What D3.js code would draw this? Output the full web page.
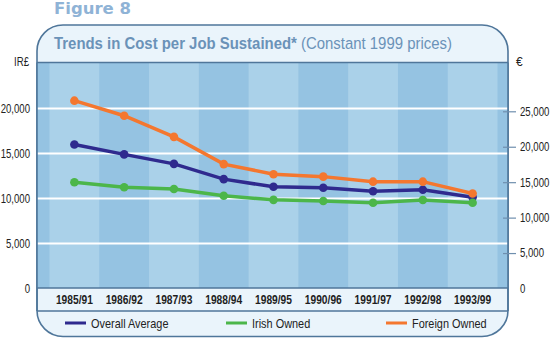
<!DOCTYPE html>
<html lang="en">
<head>
<meta charset="utf-8" />
<title>Figure 8</title>
<script src="https://cdnjs.cloudflare.com/ajax/libs/d3/7.8.5/d3.min.js"></script>
<style>
  body { margin: 0; background: #fff; }
  svg text { font-family: "Liberation Sans", Arial, sans-serif; }
</style>
</head>
<body>
<svg id="chart" width="556" height="340"></svg>
<script>
// data (IR£, constant 1999 prices)
const periods = ["1985/91", "1986/92", "1987/93", "1988/94", "1989/95", "1990/96", "1991/97", "1992/98", "1993/99"];
const overallAvg = [16000, 14900, 13850, 12150, 11300, 11200, 10800, 10980, 10150];
const irishOwned = [11800, 11250, 11050, 10300, 9850, 9720, 9530, 9830, 9530];
const foreignOwned = [20870, 19200, 16850, 13820, 12700, 12430, 11870, 11870, 10560];
const irpTicks = [0, 5000, 10000, 15000, 20000];
const euroTicks = [0, 5000, 10000, 15000, 20000, 25000];
const seriesNames = ["Overall Average", "Irish Owned", "Foreign Owned"];
const seriesColors = ["#2f2a8e", "#4cb64a", "#f4772f"];
const IEP_TO_EUR = 1.269738;

const svg = d3.select("#chart");
const frameC = "#4f769a";
const SX = 0.8; // fake a condensed face by squeezing Liberation Sans

// squeeze text horizontally around its own x,y
function squeeze(sel, sx) {
  sel.each(function () {
    const t = d3.select(this);
    const x = +t.attr("x") || 0;
    const yy = +t.attr("y") || 0;
    t.attr("x", 0).attr("y", 0)
      .attr("transform", `translate(${x},${yy}) scale(${sx},1)`);
  });
}

// frame geometry
const L = 37, R = 508, T = 25, B = 336.5;
const titleB = 62.5, plotB = 288, labB = 311;

// outer rounded box
svg.append("rect")
  .attr("x", L).attr("y", T)
  .attr("width", R - L).attr("height", B - T)
  .attr("rx", 26).attr("ry", 26)
  .attr("fill", "#eaf4fb")
  .attr("stroke", frameC)
  .attr("stroke-width", 1.6);

// scales
const xBand = d3.scaleBand().domain(periods).range([49.5, 497.5]);
const xc = (p) => xBand(p) + xBand.bandwidth() / 2;
const y = d3.scaleLinear().domain([0, 25000]).range([288.5, 63.5]);
const yEur = d3.scaleLinear().domain([0, 25000 * IEP_TO_EUR]).range([288.5, 63.5]);

// plot background with alternating columns
svg.append("rect")
  .attr("x", L).attr("y", titleB)
  .attr("width", R - L).attr("height", plotB - titleB)
  .attr("fill", "#95c3e2");
svg.append("g")
  .selectAll("rect")
  .data(periods.filter((d, i) => i % 2 === 0))
  .join("rect")
  .attr("x", (d) => xBand(d))
  .attr("y", titleB)
  .attr("width", xBand.bandwidth())
  .attr("height", plotB - titleB)
  .attr("fill", "#aad1e9");

// gridlines
svg.append("g")
  .selectAll("line")
  .data(irpTicks.filter((d) => d > 0))
  .join("line")
  .attr("x1", L).attr("x2", R)
  .attr("y1", (d) => y(d)).attr("y2", (d) => y(d))
  .attr("stroke", "#fff")
  .attr("stroke-width", 2);

// band separators
[titleB, plotB, labB].forEach((yy) => {
  svg.append("line")
    .attr("x1", L).attr("x2", R)
    .attr("y1", yy).attr("y2", yy)
    .attr("stroke", frameC)
    .attr("stroke-width", 1.6);
});
svg.append("line").attr("x1", L).attr("x2", L).attr("y1", titleB).attr("y2", labB)
  .attr("stroke", frameC).attr("stroke-width", 1.6);
svg.append("line").attr("x1", R).attr("x2", R).attr("y1", titleB).attr("y2", labB)
  .attr("stroke", frameC).attr("stroke-width", 1.6);

// lines + dots
const line = d3.line().x((d, i) => xc(periods[i])).y((d) => y(d));
[overallAvg, irishOwned, foreignOwned].forEach((vals, k) => {
  svg.append("path")
    .attr("d", line(vals))
    .attr("fill", "none")
    .attr("stroke", seriesColors[k])
    .attr("stroke-width", 3.5);
  svg.append("g")
    .selectAll("circle")
    .data(vals)
    .join("circle")
    .attr("cx", (d, i) => xc(periods[i]))
    .attr("cy", (d) => y(d))
    .attr("r", 4.3)
    .attr("fill", seriesColors[k]);
});

// left axis (IR£)
const yAxis = svg.append("g")
  .attr("transform", "translate(30,0)")
  .call(d3.axisLeft(y).tickValues(irpTicks).tickSize(0).tickPadding(0).tickFormat(d3.format(",")));
yAxis.select(".domain").remove();
yAxis.selectAll("text").attr("font-size", 12).attr("fill", "#222");
squeeze(yAxis.selectAll("text"), SX);

// right axis (€)
const yAxisR = svg.append("g")
  .attr("transform", "translate(503,0)")
  .call(d3.axisRight(yEur).tickValues(euroTicks).tickSize(13).tickPadding(4).tickFormat(d3.format(",")));
yAxisR.select(".domain").remove();
yAxisR.selectAll("line").attr("stroke", "#6f8fae").attr("stroke-width", 1.2);
yAxisR.selectAll(".tick").filter((d) => d === 0).select("line").remove();
yAxisR.selectAll("text").attr("font-size", 12).attr("fill", "#222");
squeeze(yAxisR.selectAll("text"), SX);

// x labels
const xl = svg.append("g")
  .selectAll("text")
  .data(periods)
  .join("text")
  .attr("x", (d) => xc(d))
  .attr("y", 303.5)
  .attr("text-anchor", "middle")
  .attr("font-size", 12.5)
  .attr("font-weight", "bold")
  .attr("fill", "#1e1e1e")
  .text((d) => d);
squeeze(xl, 0.82);

// unit labels
const u1 = svg.append("text").attr("x", 29).attr("y", 66).attr("text-anchor", "end")
  .attr("font-size", 12).attr("fill", "#222").text("IR£");
squeeze(u1, SX);
svg.append("text").attr("x", 516).attr("y", 66)
  .attr("font-size", 12).attr("fill", "#222").text("€");

// title
svg.append("text").attr("x", 54).attr("y", 14)
  .style("font-family", "'DejaVu Sans', sans-serif")
  .attr("font-size", 16.5).attr("font-weight", "bold")
  .attr("fill", "#8fb3d6").text("Figure 8");
const title = svg.append("text").attr("x", 54).attr("y", 49)
  .attr("font-size", 16.5).attr("fill", "#6a92b8");
title.append("tspan").attr("font-weight", "bold").text("Trends in Cost per Job Sustained*");
title.append("tspan").text(" (Constant 1999 prices)");
squeeze(title, 0.905);

// legend
const legX = [65, 226, 386];
seriesNames.forEach((name, k) => {
  svg.append("line")
    .attr("x1", legX[k]).attr("x2", legX[k] + 21)
    .attr("y1", 323).attr("y2", 323)
    .attr("stroke", seriesColors[k])
    .attr("stroke-width", 3);
  const t = svg.append("text")
    .attr("x", legX[k] + 26).attr("y", 327.5)
    .attr("font-size", 13)
    .attr("fill", "#222")
    .text(name);
  squeeze(t, 0.84);
});
</script>
</body>
</html>
